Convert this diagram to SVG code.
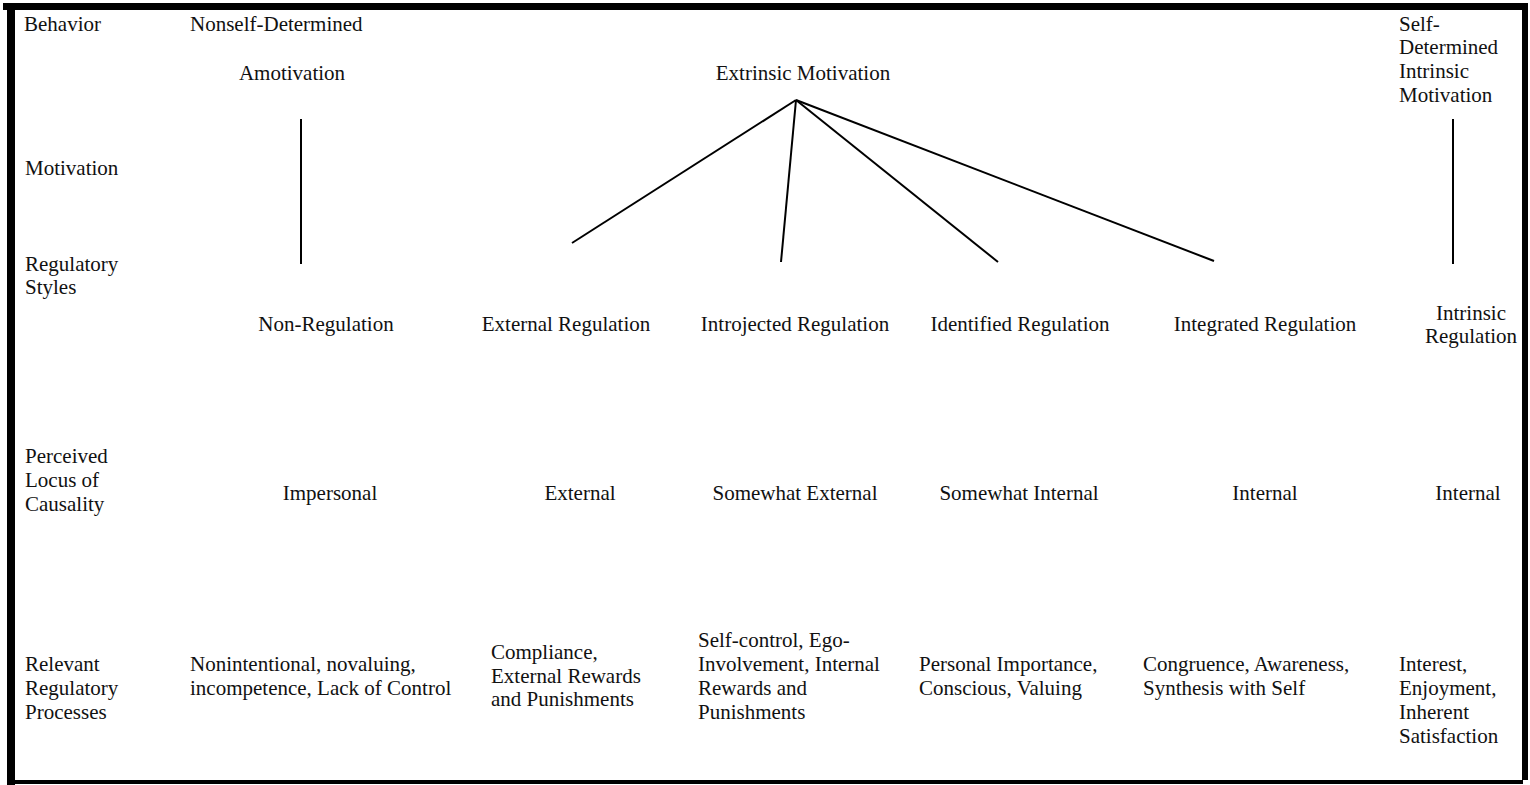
<svg xmlns="http://www.w3.org/2000/svg" width="1530" height="785" viewBox="0 0 1530 785">
<style>
text{font-family:"Liberation Serif","Times New Roman",serif;font-size:21px;fill:#111}
.c{text-anchor:middle}
.ln{stroke:#000;stroke-width:2;fill:none}
.bd{fill:#000}
</style>
<rect width="1530" height="785" fill="#fff"/>
<g id="border">
<rect class="bd" x="3" y="3" width="1525" height="7"/>
<rect class="bd" x="7" y="3" width="8" height="782"/>
<rect class="bd" x="1522" y="3" width="6" height="777"/>
<rect class="bd" x="7" y="780" width="1516" height="4"/>
</g>
<g id="row-labels">
<text x="24" y="31">Behavior</text>
<text x="25" y="175">Motivation</text>
<text x="25" y="271">Regulatory<tspan x="25" y="294">Styles</tspan></text>
<text x="25" y="463">Perceived<tspan x="25" y="487">Locus of</tspan><tspan x="25" y="511">Causality</tspan></text>
<text x="25" y="671">Relevant<tspan x="25" y="695">Regulatory</tspan><tspan x="25" y="719">Processes</tspan></text>
</g>
<g id="nonself"><text x="190" y="31">Nonself-Determined</text></g>
<g id="amotivation"><text class="c" x="292" y="80">Amotivation</text></g>
<g id="extrinsic"><text class="c" x="803" y="80">Extrinsic Motivation</text></g>
<g id="intrinsic-motivation"><text x="1399" y="31">Self-<tspan x="1399" y="54">Determined</tspan><tspan x="1399" y="78">Intrinsic</tspan><tspan x="1399" y="102">Motivation</tspan></text></g>
<g id="non-regulation"><text class="c" x="326" y="331">Non-Regulation</text></g>
<g id="external-regulation"><text class="c" x="566" y="331">External Regulation</text></g>
<g id="introjected-regulation"><text class="c" x="795" y="331">Introjected Regulation</text></g>
<g id="identified-regulation"><text class="c" x="1020" y="331">Identified Regulation</text></g>
<g id="integrated-regulation"><text class="c" x="1265" y="331">Integrated Regulation</text></g>
<g id="intrinsic-regulation"><text class="c" x="1471" y="320">Intrinsic<tspan x="1471" y="343">Regulation</tspan></text></g>
<g id="locus">
<text class="c" x="330" y="500">Impersonal</text>
<text class="c" x="580" y="500">External</text>
<text class="c" x="795" y="500">Somewhat External</text>
<text class="c" x="1019" y="500">Somewhat Internal</text>
<text class="c" x="1265" y="500">Internal</text>
<text class="c" x="1468" y="500">Internal</text>
</g>
<g id="processes">
<text x="190" y="671">Nonintentional, novaluing,<tspan x="190" y="695">incompetence, Lack of Control</tspan></text>
<text x="491" y="659">Compliance,<tspan x="491" y="683">External Rewards</tspan><tspan x="491" y="706">and Punishments</tspan></text>
<text x="698" y="647">Self-control, Ego-<tspan x="698" y="671">Involvement, Internal</tspan><tspan x="698" y="695">Rewards and</tspan><tspan x="698" y="719">Punishments</tspan></text>
<text x="919" y="671">Personal Importance,<tspan x="919" y="695">Conscious, Valuing</tspan></text>
<text x="1143" y="671">Congruence, Awareness,<tspan x="1143" y="695">Synthesis with Self</tspan></text>
<text x="1399" y="671">Interest,<tspan x="1399" y="695">Enjoyment,</tspan><tspan x="1399" y="719">Inherent</tspan><tspan x="1399" y="743">Satisfaction</tspan></text>
</g>
<g id="connectors">
<line class="ln" x1="301" y1="119" x2="301" y2="264"/>
<line class="ln" x1="1453" y1="119" x2="1453" y2="264"/>
<line class="ln" x1="796" y1="100" x2="572" y2="243"/>
<line class="ln" x1="796" y1="100" x2="781" y2="262"/>
<line class="ln" x1="796" y1="100" x2="998" y2="262"/>
<line class="ln" x1="796" y1="100" x2="1214" y2="261"/>
</g>
</svg>
